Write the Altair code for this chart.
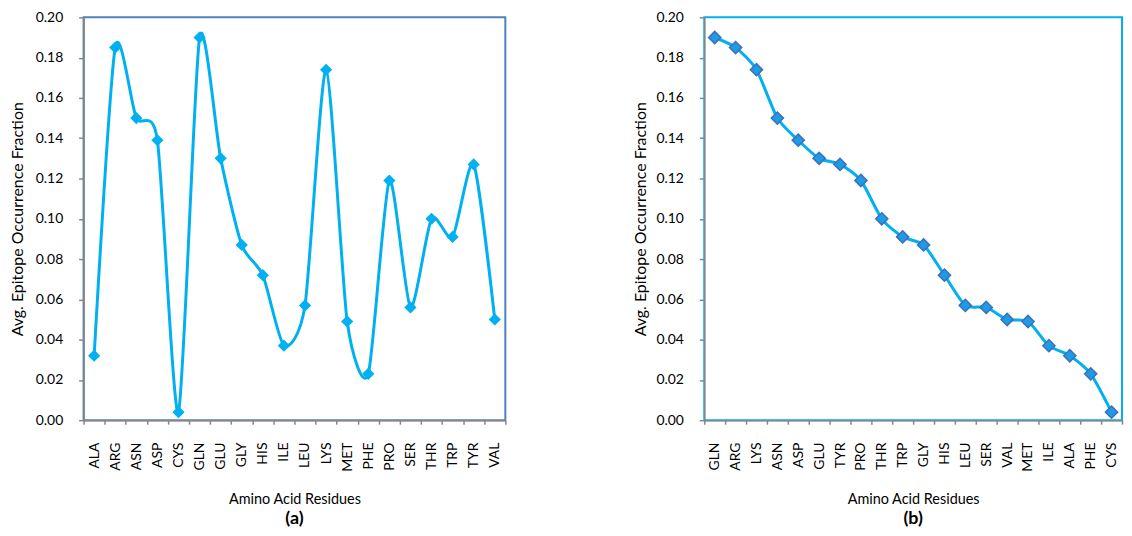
import altair as alt
import pandas as pd

residues_a = ["ALA", "ARG", "ASN", "ASP", "CYS", "GLN", "GLU", "GLY", "HIS", "ILE",
              "LEU", "LYS", "MET", "PHE", "PRO", "SER", "THR", "TRP", "TYR", "VAL"]
values_a = [0.032, 0.185, 0.150, 0.139, 0.004, 0.190, 0.130, 0.087, 0.072, 0.037,
            0.057, 0.174, 0.049, 0.023, 0.119, 0.056, 0.100, 0.091, 0.127, 0.050]

residues_b = ["GLN", "ARG", "LYS", "ASN", "ASP", "GLU", "TYR", "PRO", "THR", "TRP",
              "GLY", "HIS", "LEU", "SER", "VAL", "MET", "ILE", "ALA", "PHE", "CYS"]
values_b = [0.190, 0.185, 0.174, 0.150, 0.139, 0.130, 0.127, 0.119, 0.100, 0.091,
            0.087, 0.072, 0.057, 0.056, 0.050, 0.049, 0.037, 0.032, 0.023, 0.004]

y_ticks = [0.00, 0.02, 0.04, 0.06, 0.08, 0.10, 0.12, 0.14, 0.16, 0.18, 0.20]

FONT = "Lato"
AXIS_GRAY = "#868686"
LINE_BLUE = "#00B0F0"


def panel(residues, values, letter, border, mfill, mstroke, mstroke_w, ytitle_pad, width, height):
    df = pd.DataFrame({"res": residues, "val": values})
    x = alt.X(
        "res:N",
        sort=residues,
        scale=alt.Scale(type="band", paddingInner=0, paddingOuter=0),
        axis=alt.Axis(
            title="Amino Acid Residues",
            labelAngle=-90,
            labelAlign="right",
            labelBaseline="middle",
            tickBand="extent",
            tickSize=4,
            labelPadding=18,
            titlePadding=21,
            titleFontSize=14.5,
            labelFontSize=14,
        ),
    )
    y = alt.Y(
        "val:Q",
        scale=alt.Scale(domain=[0, 0.2], nice=False, zero=True),
        axis=alt.Axis(
            title="Avg. Epitope Occurrence Fraction",
            values=y_ticks,
            format=".2f",
            tickSize=5,
            labelPadding=16,
            titlePadding=ytitle_pad,
            titleFontSize=16,
            labelFontSize=14,
        ),
    )
    base = alt.Chart(df).encode(x=x, y=y)
    line = base.mark_line(interpolate="cardinal", tension=0.3, color=LINE_BLUE, strokeWidth=3)
    pts = base.mark_point(
        shape="diamond", filled=True, size=150, fill=mfill, opacity=1,
        stroke=mstroke, strokeWidth=mstroke_w,
    )
    return alt.layer(line, pts).properties(
        width=width,
        height=height,
        view=alt.ViewBackground(stroke=border, strokeWidth=2),
        title=alt.TitleParams(
            letter, orient="bottom", anchor="middle", frame="group",
            fontSize=18, fontWeight="bold", font=FONT, color="#000000", offset=5,
        ),
    )


left = panel(residues_a, values_a, "(a)", "#4F81BD", LINE_BLUE, LINE_BLUE, 0, 10, 424, 405)
right = panel(residues_b, values_b, "(b)", LINE_BLUE, "#1C9CE6", "#3F6FB6", 1.5, 7, 420, 405)

chart = (
    alt.hconcat(left, right, spacing=125)
    .properties(padding={"left": 0, "top": 0, "right": 0, "bottom": 0})
    .configure_axis(
        domainColor=AXIS_GRAY,
        domainWidth=1.5,
        tickColor=AXIS_GRAY,
        tickWidth=1.5,
        grid=False,
        labelFont=FONT,
        labelColor="#000000",
        titleFont=FONT,
        titleColor="#000000",
        titleFontWeight="normal",
    )
    .configure_view(stroke=None)
)

chart.save("out.html", embed_options={"renderer": "svg", "actions": False})
